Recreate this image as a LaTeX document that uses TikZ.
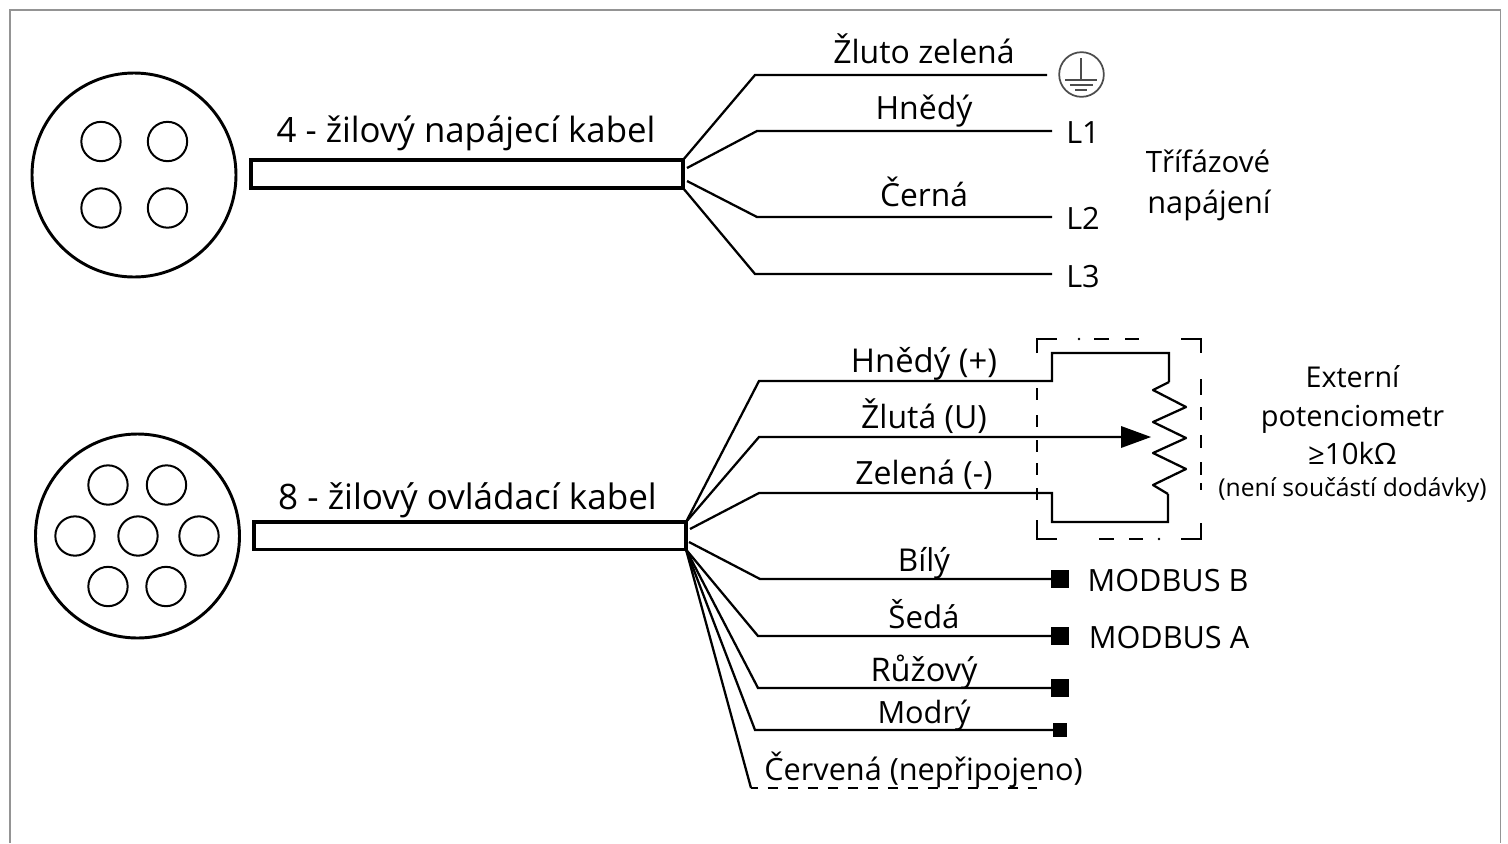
\documentclass[tikz,border=0pt]{standalone}
\usepackage{fontspec}
\setmainfont{Open Sans}
\tikzset{
  x=0.75pt,y=-0.75pt,
  wire/.style={line width=1.7pt,black,line join=miter},
  pin/.style={circle,draw,line width=1.5pt,minimum size=29.5pt,inner sep=0pt},
  shell/.style={circle,draw,line width=2.2pt,minimum size=153pt,inner sep=0pt},
  lbl/.style={inner sep=0pt,font=\fontsize{#1}{#1}\selectfont,anchor=base},
  lbl/.default=23,
  term/.style={fill=black,inner sep=0pt,minimum size=12.5pt},
  boxdash/.style={line width=1.7pt,black,line cap=butt,line join=miter},
}
\begin{document}
\begin{tikzpicture}
\useasboundingbox (0,0) rectangle (1508,843);
\draw[line width=1.1pt,black!42] (10,843) -- (10,10) -- (1500.5,10) -- (1500.5,843);

% Upper connector
\node[shell] (s1) at (134,175) {};
\node[pin] (p1a) at (101,141.5) {};
\node[pin] (p1b) at (167.5,141.5) {};
\node[pin] (p1c) at (101,208) {};
\node[pin] (p1d) at (167.5,208) {};
\coordinate (c1tl) at (251,160);
\coordinate (c1br) at (683,188);
\draw[line width=2.4pt] (c1tl) rectangle (c1br);
\node[lbl=26.1] (t1) at (466,142) {4 - žilový napájecí kabel};

\coordinate (o1) at (683,160);
\coordinate (o2) at (687,168);
\coordinate (o3) at (687,181);
\coordinate (o4) at (683,188);
\coordinate (k1) at (755,75);
\coordinate (k2) at (757,131);
\coordinate (k3) at (757,217);
\coordinate (k4) at (755,274);
\coordinate (e1) at (1047,75);
\coordinate (e2) at (1052,131);
\coordinate (e3) at (1052,217);
\coordinate (e4) at (1052,274);
\draw[wire] (o1) -- (k1) -- (e1);
\draw[wire] (o2) -- (k2) -- (e2);
\draw[wire] (o3) -- (k3) -- (e3);
\draw[wire] (o4) -- (k4) -- (e4);

\node[lbl=24] (a1) at (924,63) {Žluto zelená};
\node[lbl=24] (a2) at (924,119) {Hnědý};
\node[lbl=23.8] (a3) at (924,206) {Černá};
\node[lbl] (l1) at (1083,143) {L1};
\node[lbl] (l2) at (1083,229) {L2};
\node[lbl] (l3) at (1083,287) {L3};
\node[lbl=22.1] (ph1) at (1208,172) {Třífázové};
\node[lbl] (ph2) at (1209,213) {napájení};

% Earth symbol
\node[circle,draw=black!70,line width=1.3pt,minimum size=33.5pt,inner sep=0pt] (gnd) at (1081.5,74.5) {};
\coordinate (g0) at (1081,58);
\coordinate (g1) at (1081,80);
\coordinate (g2a) at (1065,80);
\coordinate (g2b) at (1097,80);
\coordinate (g3a) at (1070,85);
\coordinate (g3b) at (1093,85);
\coordinate (g4a) at (1075,90);
\coordinate (g4b) at (1087,90);
\draw[line width=1.1pt,black!70] (g0) -- (g1) (g2a) -- (g2b) (g3a) -- (g3b) (g4a) -- (g4b);

% Lower connector
\node[shell] (s2) at (137.5,536) {};
\node[pin] (q1) at (108,485) {};
\node[pin] (q2) at (166.5,485) {};
\node[pin] (q3) at (75,536) {};
\node[pin] (q4) at (138,536) {};
\node[pin] (q5) at (199,536) {};
\node[pin] (q6) at (108,586.5) {};
\node[pin] (q7) at (166,586.5) {};
\coordinate (c2tl) at (254,522);
\coordinate (c2br) at (686,549.5);
\draw[line width=2.4pt] (c2tl) rectangle (c2br);
\node[lbl=26.3] (t2) at (467.5,509) {8 - žilový ovládací kabel};

\coordinate (r0) at (686,522);
\coordinate (r1) at (690,529);
\coordinate (r3) at (689,542);
\coordinate (r4) at (686,549.5);
\coordinate (m1) at (759,381);
\coordinate (m2) at (759,437);
\coordinate (m3) at (759,493);
\coordinate (m4) at (760,579);
\coordinate (m5) at (758,636);
\coordinate (m6) at (758,688);
\coordinate (m7) at (755,730);
\coordinate (m8) at (751,788);

\coordinate (n1) at (1052,381);
\coordinate (n1t) at (1052,353);
\coordinate (n1r) at (1169,353);
\coordinate (n2) at (1125,437);
\coordinate (n3) at (1052,493);
\coordinate (n3b) at (1052,522);
\coordinate (n3r) at (1168,522);

\draw[wire] (r0) -- (m1) -- (n1) -- (n1t) -- (n1r) -- (1169,382);
\draw[wire] (r0) -- (m2) -- (n2);
\draw[wire] (r1) -- (m3) -- (n3) -- (n3b) -- (n3r) -- (1168,494);
\draw[wire] (r3) -- (m4) -- (1054,579);
\draw[wire] (r4) -- (m5) -- (1054,636);
\draw[wire] (r4) -- (m6) -- (1054,688);
\draw[wire] (r4) -- (m7) -- (1054,730);
\draw[wire] (r4) -- (m8);
\draw[wire,dash pattern=on 8pt off 7pt,dash phase=2.5pt] (m8) -- (1037,788);

% Potentiometer
\draw[wire,line join=round] (1169,382) -- (1153,390) -- (1186,407) -- (1153,422) -- (1186,438) -- (1153,453) -- (1186,469) -- (1153,485) -- (1168,494);
\fill[black] (1151,437) -- (1121,426) -- (1121,448) -- cycle;

% Dashed box
\draw[boxdash] (1037,353) -- (1037,339) -- (1057,339)
  (1094,339) -- (1109,339) (1125,339) -- (1139,339)
  (1181,339) -- (1201,339) -- (1201,353);
\fill[black] (1079,339) circle[radius=1pt] (1159,539) circle[radius=1pt];
\draw[boxdash] (1037,388) -- (1037,400) (1037,415) -- (1037,427)
  (1037,440) -- (1037,452) (1037,463) -- (1037,475) (1037,488) -- (1037,500);
\draw[boxdash] (1201,379) -- (1201,395) (1201,407) -- (1201,420)
  (1201,435) -- (1201,448) (1201,462) -- (1201,475) (1201,483) -- (1201,490);
\draw[boxdash] (1037,520) -- (1037,539) -- (1057,539)
  (1099,539) -- (1114,539) (1129,539) -- (1143,539)
  (1181,539) -- (1201,539) -- (1201,523);

% Terminals
\node[term,minimum size=13pt] (b1) at (1060,579) {};
\node[term,minimum size=13pt] (b2) at (1060,636) {};
\node[term,minimum size=13pt] (b3) at (1060,688) {};
\node[term,minimum size=10pt] (b4) at (1060,730) {};

% Lower labels
\node[lbl=24.6] (w1) at (924,372) {Hnědý (+)};
\node[lbl=24] (w2) at (924,428) {Žlutá (U)};
\node[lbl=24] (w3) at (924,484) {Zelená (-)};
\node[lbl=23.6] (w4) at (924,571) {Bílý};
\node[lbl=23.4] (w5) at (924,628) {Šedá};
\node[lbl=24.4] (w6) at (924,681) {Růžový};
\node[lbl] (w7) at (924,723) {Modrý};
\node[lbl] (w8) at (923.5,780) {Červená (nepřipojeno)};
\node[lbl] (mb) at (1168,591) {MODBUS B};
\node[lbl] (ma) at (1169,648) {MODBUS A};
\node[lbl=21.5] (x1) at (1352.5,387) {Externí};
\node[lbl=21.7] (x2) at (1352.5,426) {potenciometr};
\node[lbl=22] (x3) at (1352.5,464) {≥10kΩ};
\node[lbl=18.5] (x4) at (1352.5,496) {(není součástí dodávky)};
\end{tikzpicture}
\end{document}
